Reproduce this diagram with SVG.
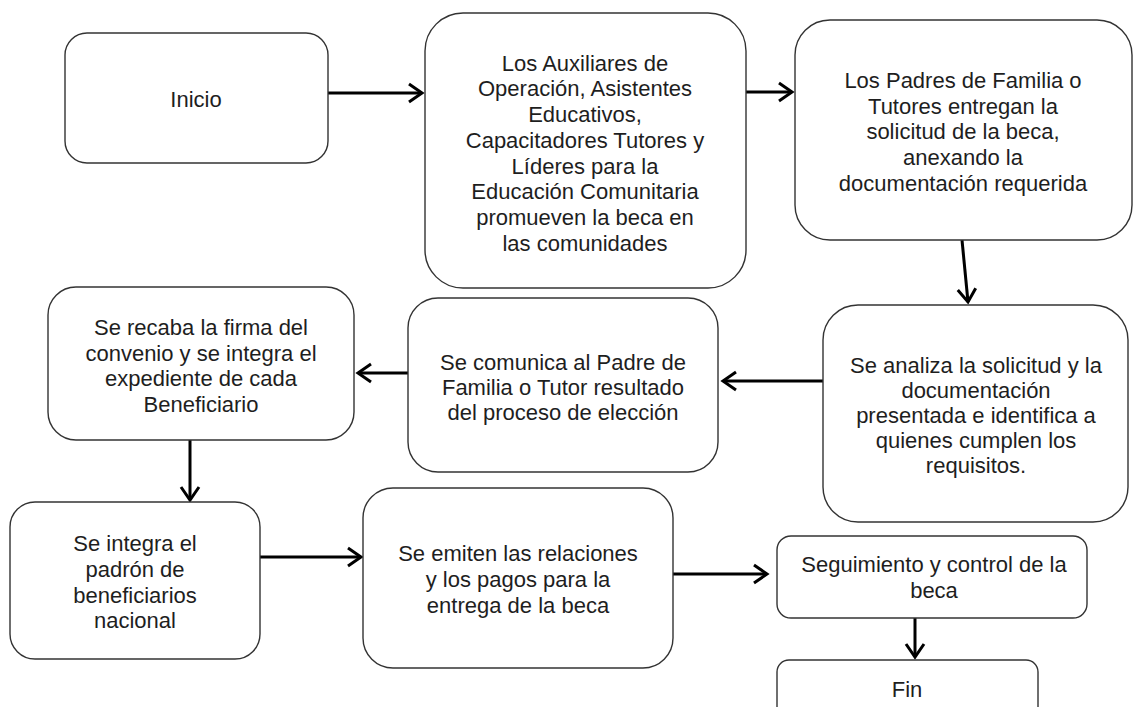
<svg xmlns="http://www.w3.org/2000/svg" width="1134" height="707" viewBox="0 0 1134 707">
<style>
.box{fill:#fff;stroke:#333;stroke-width:1.4}
.t{font-family:"Liberation Sans",Arial,sans-serif;font-size:22px;fill:#1e1e1e;text-anchor:middle}
.c{fill:none;stroke:#000;stroke-width:3}
</style>
<defs>
<marker id="ah" markerUnits="userSpaceOnUse" viewBox="-16 -12 20 24" markerWidth="20" markerHeight="24" refX="0" refY="0" orient="auto" overflow="visible">
<path d="M -13 -9 L 0 0 L -13 9" fill="none" stroke="#000" stroke-width="3"/>
</marker>
</defs>
<rect width="1134" height="707" fill="#fff"/>
<g id="connectors">
<line class="c" x1="322" y1="93" x2="422" y2="93" marker-end="url(#ah)"/>
<line class="c" x1="746" y1="92" x2="792" y2="92" marker-end="url(#ah)"/>
<line class="c" x1="962" y1="240" x2="968" y2="302" marker-end="url(#ah)"/>
<line class="c" x1="823" y1="381" x2="723" y2="381" marker-end="url(#ah)"/>
<line class="c" x1="408" y1="373" x2="358" y2="373" marker-end="url(#ah)"/>
<line class="c" x1="190" y1="440" x2="190" y2="500" marker-end="url(#ah)"/>
<line class="c" x1="260" y1="557" x2="361" y2="557" marker-end="url(#ah)"/>
<line class="c" x1="673" y1="574" x2="767" y2="574" marker-end="url(#ah)"/>
<line class="c" x1="915" y1="618" x2="915" y2="657" marker-end="url(#ah)"/>
</g>
<g id="n1">
<rect class="box" x="65" y="33" width="263" height="130" rx="22"/>
<text class="t" x="196" y="107">Inicio</text>
</g>
<g id="n2">
<rect class="box" x="425" y="13" width="321" height="275" rx="38"/>
<text class="t" x="585" y="71">Los Auxiliares de</text>
<text class="t" x="585" y="96">Operación, Asistentes</text>
<text class="t" x="585" y="122">Educativos,</text>
<text class="t" x="585" y="148">Capacitadores Tutores y</text>
<text class="t" x="585" y="174">Líderes para la</text>
<text class="t" x="585" y="199">Educación Comunitaria</text>
<text class="t" x="585" y="225">promueven la beca en</text>
<text class="t" x="585" y="251">las comunidades</text>
</g>
<g id="n3">
<rect class="box" x="795" y="20" width="337" height="220" rx="35"/>
<text class="t" x="963" y="88">Los Padres de Familia o</text>
<text class="t" x="963" y="114">Tutores entregan la</text>
<text class="t" x="963" y="139">solicitud de la beca,</text>
<text class="t" x="963" y="165">anexando la</text>
<text class="t" x="963" y="191">documentación requerida</text>
</g>
<g id="n4">
<rect class="box" x="823" y="305" width="305" height="217" rx="35"/>
<text class="t" x="976" y="373">Se analiza la solicitud y la</text>
<text class="t" x="976" y="398">documentación</text>
<text class="t" x="976" y="423">presentada e identifica a</text>
<text class="t" x="976" y="448">quienes cumplen los</text>
<text class="t" x="976" y="473">requisitos.</text>
</g>
<g id="n5">
<rect class="box" x="408" y="298" width="310" height="174" rx="30"/>
<text class="t" x="563" y="370">Se comunica al Padre de</text>
<text class="t" x="563" y="395">Familia o Tutor resultado</text>
<text class="t" x="563" y="420">del proceso de elección</text>
</g>
<g id="n6">
<rect class="box" x="48" y="287" width="306" height="153" rx="28"/>
<text class="t" x="201" y="335">Se recaba la firma del</text>
<text class="t" x="201" y="361">convenio y se integra el</text>
<text class="t" x="201" y="386">expediente de cada</text>
<text class="t" x="201" y="412">Beneficiario</text>
</g>
<g id="n7">
<rect class="box" x="10" y="502" width="250" height="157" rx="25"/>
<text class="t" x="135" y="551">Se integra el</text>
<text class="t" x="135" y="577">padrón de</text>
<text class="t" x="135" y="603">beneficiarios</text>
<text class="t" x="135" y="628">nacional</text>
</g>
<g id="n8">
<rect class="box" x="363" y="488" width="310" height="180" rx="30"/>
<text class="t" x="518" y="561">Se emiten las relaciones</text>
<text class="t" x="518" y="587">y los pagos para la</text>
<text class="t" x="518" y="613">entrega de la beca</text>
</g>
<g id="n9">
<rect class="box" x="777" y="536" width="310" height="82" rx="14"/>
<text class="t" x="934" y="572">Seguimiento y control de la</text>
<text class="t" x="934" y="598">beca</text>
</g>
<g id="n10">
<rect class="box" x="777" y="660" width="261" height="70" rx="12"/>
<text class="t" x="907" y="697">Fin</text>
</g>
</svg>
